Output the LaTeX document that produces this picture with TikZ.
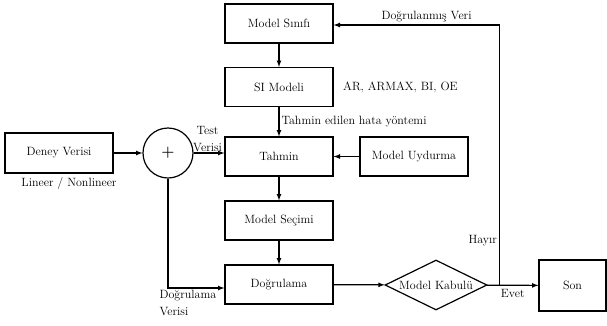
\documentclass[tikz,border=0pt]{standalone}
\usetikzlibrary{positioning,shapes.geometric}

\begin{document}
\begin{tikzpicture}[
        x=1pt, y=-1pt, % piksel gibi: y asagi dogru
        line width=1.2pt,
        every node/.style = {font=\fontsize{12}{17}\selectfont},
        ok/.style = {draw, -latex},
        kutu/.style = {draw, rectangle, minimum width=108pt, minimum height=39pt, inner sep=0pt}, % Blok stili
        etiket/.style = {inner sep=2pt, align=left},
    ]
    \useasboundingbox (0,0) rectangle (607,325);

    % ana blok zinciri
    \node[kutu] (sinif) at (279,23.5) {Model Sınıfı};
    \node[kutu] (simodel) at (279,87) {SI Modeli};
    \node[kutu] (tahmin) at (279,156.5) {Tahmin};
    \node[kutu] (secim) at (279,220.5) {Model Seçimi};
    \node[kutu] (dogrulama) at (279,284.5) {Doğrulama};

    \node[kutu, minimum height=40pt] (deney) at (59,153) {Deney Verisi};
    \node[draw, circle, minimum size=50pt, inner sep=0pt, font=\fontsize{15}{15}\bfseries] (topla) at (168,153) {+};
    \node[kutu] (uydurma) at (414,156.5) {Model Uydurma};
    \node[draw, diamond, minimum width=102pt, minimum height=50pt, inner sep=0pt,
          label=center:{Model Kabulü}] (kabul) at (436,285) {};
    \node[kutu, minimum width=67pt, minimum height=51pt] (son) at (572.5,285.5) {Son};

    \node[etiket, right=7pt of simodel] (armax) {AR, ARMAX, BI, OE};
    \node[etiket, below=1pt of deney, xshift=10pt] (lineer) {Lineer / Nonlineer};

    \coordinate (ayrim) at ([xshift=12pt]kabul.east);

    % baglantilar
    \draw[ok] (sinif) -- (simodel);
    \draw[ok] (simodel) -- node[etiket, midway, right] {Tahmin edilen hata yöntemi} (tahmin);
    \draw[ok] (tahmin) -- (secim);
    \draw[ok] (secim) -- (dogrulama);
    \draw[ok] (deney) -- (topla);
    \draw[ok] (topla.east) -- node[pos=0, anchor=south west, inner sep=1pt, xshift=-2pt, align=center] {Test\\Verisi} (topla.east -| tahmin.west);
    \draw[ok] (topla.south) |- node[pos=0.5, anchor=north west, xshift=-11pt, etiket] {Doğrulama\\Verisi} ([yshift=-3.5pt]dogrulama.west);
    \draw[ok] (uydurma) -- (tahmin);
    \draw[ok] (dogrulama) -- (kabul);
    \draw[ok] (kabul) -- node[midway, below, inner sep=3pt] {Evet} (son);
    \draw[ok] (ayrim) |- node[pos=0.086, left, inner sep=2pt] {Hayır}
        node[pos=0.72, above, inner sep=2pt] {Doğrulanmış Veri} ([yshift=-1.5pt]sinif.east);
\end{tikzpicture}
\end{document}
